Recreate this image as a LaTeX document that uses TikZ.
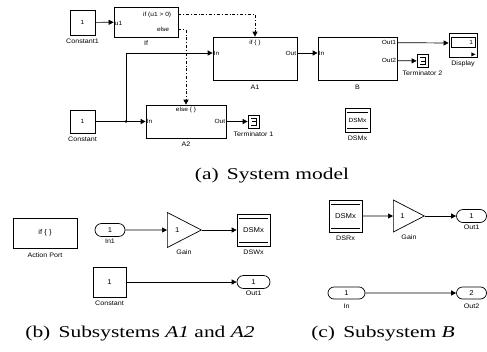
\documentclass[tikz,border=0pt]{standalone}
\usepackage{fontspec}
\setmainfont{Liberation Serif}[FakeStretch=1.3]
\setsansfont{Liberation Sans}[FakeStretch=1.1]
\usetikzlibrary{arrows.meta,calc,positioning,shapes.geometric,shapes.misc}
\tikzset{
  blk/.style={draw, fill=white, line width=0.7pt, inner sep=0pt, font=\sffamily\fontsize{6}{7}\selectfont},
  blklbl/.style={inner sep=0pt, font=\sffamily\fontsize{6.5}{7}\selectfont},
  ptxt/.style={inner sep=1pt, font=\sffamily\fontsize{6}{7}\selectfont},
  portblk/.style={draw, rounded rectangle, line width=0.7pt, minimum width=30pt, minimum height=13pt, inner sep=0pt, font=\sffamily\fontsize{7}{8}\selectfont},
  gainblk/.style={draw, isosceles triangle, isosceles triangle stretches, anchor=lower side, line width=0.7pt, inner sep=0pt, font=\sffamily\fontsize{7}{8}\selectfont},
  dsblk/.style={blk, font=\sffamily\fontsize{7}{8}\selectfont, path picture={
      \draw[line width=0.5pt] ([xshift=2pt,yshift=-4pt]path picture bounding box.north west) -- ([xshift=-2pt,yshift=-4pt]path picture bounding box.north east);
      \draw[line width=0.5pt] ([xshift=2pt,yshift=4pt]path picture bounding box.south west) -- ([xshift=-2pt,yshift=4pt]path picture bounding box.south east);}},
  termblk/.style={blk, minimum width=11pt, minimum height=13pt, path picture={
      \draw[line width=0.6pt] ([xshift=-2.5pt,yshift=3.5pt]path picture bounding box.center) -- ++(5pt,0) -- ++(0,-7pt) -- ++(-5pt,0)
        ([xshift=-1.5pt]path picture bounding box.center) -- ++(4pt,0);}},
  sig/.style={-{Triangle[length=5pt,width=5pt]}, line width=0.7pt},
  ctl/.style={sig, dash dot},
  subcap/.style={inner sep=0pt, font=\fontsize{16.5}{18}\selectfont}
}
\begin{document}
\begin{tikzpicture}[x=1pt, y=-1pt]
  \useasboundingbox (0,0) rectangle (487,351);

  % (a) system model
  \node[blk, minimum width=25pt, minimum height=25pt] (c1) at (82.5,22.5) {1};
  \node[blklbl, below=3pt of c1] (c1-l) {Constant1};
  \node[blk, minimum width=64pt, minimum height=30pt] (ifb) at (146,22) {};
  \node[ptxt, anchor=west] (ifb-u1) at ($(ifb.west)+(0,1)$) {u1};
  \node[ptxt, anchor=east] (ifb-if) at ($(ifb.north east)+(-6,8)$) {if (u1 > 0)};
  \node[ptxt, anchor=east] (ifb-el) at ($(ifb.north east)+(-8,23)$) {else};
  \node[blklbl, below=3pt of ifb] (ifb-l) {If};

  \node[blk, minimum width=84pt, minimum height=43pt] (a1) at (255,58.5) {};
  \node[ptxt, anchor=north] (a1-t) at ($(a1.north)+(0,2)$) {if \{ \}};
  \node[ptxt, anchor=west] (a1-in) at ($(a1.west)+(0,-5.5)$) {In};
  \node[ptxt, anchor=east] (a1-out) at ($(a1.east)+(0,-5.5)$) {Out};
  \node[blklbl, below=4pt of a1] (a1-l) {A1};

  \node[blk, minimum width=79pt, minimum height=43pt] (b) at (357.5,58.5) {};
  \node[ptxt, anchor=west] (b-in) at ($(b.west)+(0,-5.5)$) {In};
  \node[ptxt, anchor=east] (b-o1) at ($(b.north east)+(0,6)$) {Out1};
  \node[ptxt, anchor=east] (b-o2) at ($(b.north east)+(0,24)$) {Out2};
  \node[blklbl, below=4pt of b] (b-l) {B};

  \node[blk, minimum width=28pt, minimum height=24pt] (disp) at (463,45) {};
  \draw[line width=0.5pt] ($(disp.north west)+(3,5)$) rectangle ($(disp.north east)+(-2,15)$);
  \node[ptxt, anchor=east] (disp-v) at ($(disp.north east)+(-3,10)$) {1};
  \fill ($(disp.south east)+(-6,-5)$) -- ++(4,2) -- ++(-4,2) -- cycle;
  \node[blklbl, below=3pt of disp] (disp-l) {Display};

  \node[termblk] (t2) at (422.5,61) {};
  \node[blklbl, below=3pt of t2] (t2-l) {Terminator 2};

  \node[blk, minimum width=25pt, minimum height=23pt] (c0) at (82.5,121.5) {1};
  \node[blklbl, below=3pt of c0] (c0-l) {Constant};

  \node[blk, minimum width=80pt, minimum height=33pt] (a2) at (186,121.5) {};
  \node[ptxt, anchor=north] (a2-t) at ($(a2.north)+(0,1)$) {else \{ \}};
  \node[ptxt, anchor=west] (a2-in) at (a2.west) {In};
  \node[ptxt, anchor=east] (a2-out) at (a2.east) {Out};
  \node[blklbl, below=3pt of a2] (a2-l) {A2};

  \node[termblk] (t1) at (253.5,121.5) {};
  \node[blklbl, below=3pt of t1] (t1-l) {Terminator 1};

  \node[dsblk, minimum width=25pt, minimum height=24pt, font=\sffamily\fontsize{6}{7}\selectfont] (dsm) at (357.5,120) {DSMx};
  \node[blklbl, below=3pt of dsm] (dsm-l) {DSMx};

  \coordinate (jn) at (126,121.5);
  \draw[sig] (c1) -- (ifb);
  \draw[line width=0.7pt] (c0) -- (jn);
  \draw[sig] (jn) -- (a2);
  \draw[sig] (jn) |- ($(a1.west)+(0,-5.5)$);
  \fill (jn) circle (1.3);
  \draw[sig] ($(a1.east)+(0,-5.5)$) -- ($(b.west)+(0,-5.5)$);
  \draw[sig] ($(b.north east)+(0,6)$) -- ($(disp.west)+(0,-2)$);
  \draw[sig] ($(b.north east)+(0,24)$) -- (t2);
  \draw[sig] (a2) -- (t1);
  \draw[ctl] ($(ifb.north east)+(0,8)$) -| (a1.north);
  \draw[ctl] ($(ifb.north east)+(0,23)$) -| (a2.north);

  \node[subcap] (cap-a) at (272,176) {(a)\enspace System model};

  % (b) subsystems A1 and A2
  \node[blk, minimum width=64pt, minimum height=30pt, font=\sffamily\fontsize{7}{8}\selectfont] (act) at (45,233) {if \{ \}};
  \node[blklbl, below=4pt of act] (act-l) {Action Port};
  \node[portblk] (in1) at (110,230) {1};
  \node[blklbl, below=2pt of in1] (in1-l) {In1};
  \node[gainblk, minimum width=35pt, minimum height=34pt] (gb) at (167,230) {1\hspace{8pt}};
  \node[blklbl, anchor=north] (gb-l) at ($(gb.lower side)+(17,20)$) {Gain};
  \node[dsblk, minimum width=33pt, minimum height=32pt] (dsw) at (253.5,230) {DSMx};
  \node[blklbl, below=3pt of dsw] (dsw-l) {DSWx};
  \node[blk, minimum width=33pt, minimum height=30pt, font=\sffamily\fontsize{7}{8}\selectfont] (cb) at (109.5,282) {1};
  \node[blklbl, below=3pt of cb] (cb-l) {Constant};
  \node[portblk, minimum width=33pt] (ob) at (253.5,282) {1};
  \node[blklbl, below=2pt of ob] (ob-l) {Out1};
  \draw[sig] (in1) -- (gb);
  \draw[sig] (gb.apex) -- (dsw);
  \draw[sig] (cb) -- (ob);

  \node[subcap] (cap-b) at (140,334) {(b)\enspace Subsystems \textit{A1} and \textit{A2}};

  % (c) subsystem B
  \node[dsblk, minimum width=33pt, minimum height=32pt] (dsr) at (345.5,216) {DSMx};
  \node[blklbl, below=3pt of dsr] (dsr-l) {DSRx};
  \node[gainblk, minimum width=32pt, minimum height=31pt] (gc) at (393,216) {1\hspace{8pt}};
  \node[blklbl, anchor=north] (gc-l) at ($(gc.lower side)+(16,19)$) {Gain};
  \node[portblk] (oc1) at (471.5,216) {1};
  \node[blklbl, below=2pt of oc1] (oc1-l) {Out1};
  \node[portblk, minimum width=37pt, minimum height=12pt] (inc) at (346.5,293) {1};
  \node[blklbl, below=4pt of inc] (inc-l) {In};
  \node[portblk, minimum height=12pt] (oc2) at (471.5,293) {2};
  \node[blklbl, below=4pt of oc2] (oc2-l) {Out2};
  \draw[sig] (dsr) -- (gc);
  \draw[sig] (gc.apex) -- (oc1);
  \draw[sig] (inc) -- (oc2);

  \node[subcap] (cap-c) at (383,334) {(c)\enspace Subsystem \textit{B}};
\end{tikzpicture}
\end{document}
